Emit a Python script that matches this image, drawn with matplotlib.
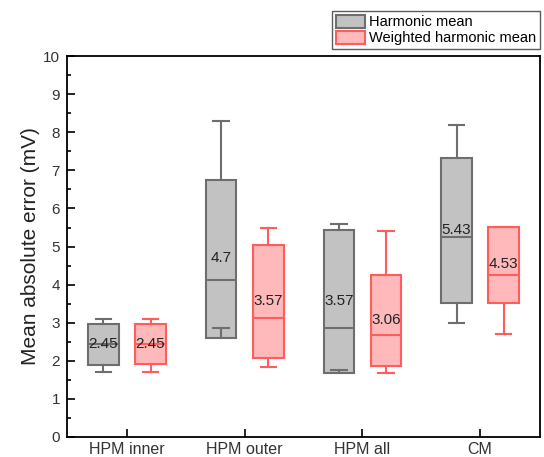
import matplotlib.pyplot as plt
from matplotlib.patches import Patch
from matplotlib.ticker import MultipleLocator

plt.rcParams["font.family"] = ["Liberation Sans", "DejaVu Sans"]

groups = ["HPM inner", "HPM outer", "HPM all", "CM"]
series = ["Harmonic mean", "Weighted harmonic mean"]

# box statistics per series, one entry per group
hm_whislo = [1.70, 2.87, 1.76, 3.00]
hm_q1 = [1.90, 2.60, 1.68, 3.53]
hm_med = [2.45, 4.13, 2.87, 5.26]
hm_q3 = [2.96, 6.75, 5.43, 7.33]
hm_whishi = [3.10, 8.30, 5.60, 8.20]
hm_mean = [2.45, 4.70, 3.57, 5.43]

whm_whislo = [1.70, 1.83, 1.68, 2.70]
whm_q1 = [1.92, 2.07, 1.86, 3.52]
whm_med = [2.45, 3.13, 2.68, 4.26]
whm_q3 = [2.97, 5.03, 4.24, 5.52]
whm_whishi = [3.10, 5.50, 5.40, 5.52]
whm_mean = [2.45, 3.57, 3.06, 4.53]

styles = [
    dict(face="#c2c2c2", edge="#6e6e6e", offset=-0.2),
    dict(face="#ffb9bb", edge="#ff5c5c", offset=0.2),
]


def make_stats(whislo, q1, med, q3, whishi, mean):
    return [
        dict(whislo=a, q1=b, med=c, q3=d, whishi=e, mean=f, fliers=[])
        for a, b, c, d, e, f in zip(whislo, q1, med, q3, whishi, mean)
    ]


data = [
    make_stats(hm_whislo, hm_q1, hm_med, hm_q3, hm_whishi, hm_mean),
    make_stats(whm_whislo, whm_q1, whm_med, whm_q3, whm_whishi, whm_mean),
]

fig = plt.figure(figsize=(5.44, 4.57), dpi=100)
ax = fig.add_axes([0.123, 0.044, 0.870, 0.833])

positions = list(range(1, len(groups) + 1))
for stats, st in zip(data, styles):
    pos = [p + st["offset"] for p in positions]
    ec = st["edge"]
    ax.bxp(
        stats,
        positions=pos,
        widths=0.26,
        capwidths=0.13,
        patch_artist=True,
        showfliers=False,
        boxprops=dict(facecolor=st["face"], edgecolor=ec, linewidth=1.5),
        whiskerprops=dict(color=ec, linewidth=1.5),
        capprops=dict(color=ec, linewidth=1.5),
        medianprops=dict(color=ec, linewidth=1.5),
        manage_ticks=False,
    )
    # mean value printed inside each box
    for p, s in zip(pos, stats):
        ax.text(p, s["mean"], f"{s['mean']:g}", ha="center", va="center",
                fontsize=11, color="#222222")

ax.set_xlim(0.49, 4.51)
ax.set_ylim(0, 10)
ax.set_xticks(positions)
ax.set_xticklabels(groups, fontsize=11.5, color="#333333")
ax.yaxis.set_major_locator(MultipleLocator(1))
ax.yaxis.set_minor_locator(MultipleLocator(0.5))
ax.tick_params(axis="both", which="major", direction="in", length=6, width=1.2)
ax.tick_params(axis="y", which="minor", direction="in", length=3, width=1.2)
ax.tick_params(axis="y", labelsize=11, labelcolor="#333333", pad=5)
ax.set_ylabel("Mean absolute error (mV)", fontsize=15, color="#222222",
              labelpad=2)
for spine in ax.spines.values():
    spine.set_linewidth(1.3)

handles = [Patch(facecolor=st["face"], edgecolor=st["edge"], linewidth=1.5)
           for st in styles]
fig.legend(handles, series, loc="upper right", bbox_to_anchor=(0.993, 0.976),
           fontsize=10.5, frameon=True, fancybox=False, edgecolor="#333333",
           borderpad=0.25, handlelength=2.0, handleheight=1.0, handletextpad=0.3,
           labelspacing=0.12, borderaxespad=0)

fig.savefig("out.png", dpi=100)
